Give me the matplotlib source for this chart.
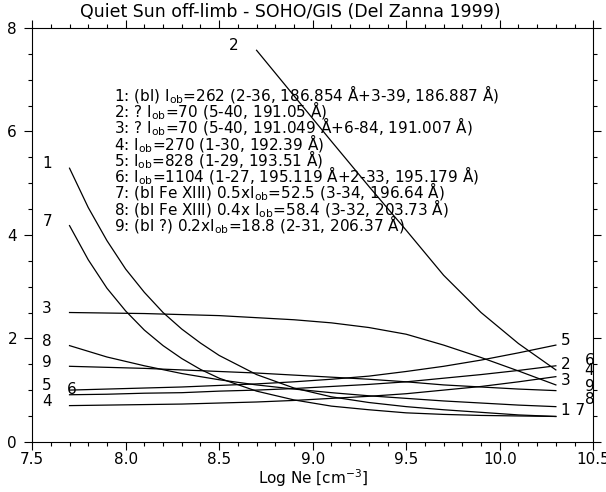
import numpy as np
import matplotlib.pyplot as plt
from matplotlib.ticker import MultipleLocator

# Log Ne grid (cm^-3)
log_ne = [7.7, 7.9, 8.1, 8.3, 8.5, 8.7, 8.9, 9.1, 9.3, 9.5, 9.7, 9.9, 10.1, 10.3]
log_ne_steep = [7.7, 7.8, 7.9, 8.0, 8.1, 8.2, 8.3, 8.4, 8.5, 8.7, 8.9, 9.1, 9.3, 9.5, 9.7, 9.9, 10.1, 10.3]
log_ne_2 = [8.7, 8.9, 9.1, 9.3, 9.5, 9.7, 9.9, 10.1, 10.3]

# ratio curves, one per line
curve_1 = [5.29, 4.53, 3.89, 3.34, 2.89, 2.50, 2.18, 1.91, 1.67, 1.30, 1.04, 0.87, 0.76, 0.68, 0.62, 0.57, 0.52, 0.49]
curve_7 = [4.18, 3.52, 2.97, 2.53, 2.16, 1.86, 1.61, 1.40, 1.23, 0.98, 0.81, 0.69, 0.62, 0.56, 0.53, 0.51, 0.50, 0.49]
curve_2 = [7.57, 6.69, 5.81, 4.94, 4.09, 3.22, 2.50, 1.90, 1.39]
curve_3 = [2.50, 2.49, 2.48, 2.46, 2.44, 2.40, 2.36, 2.30, 2.21, 2.08, 1.87, 1.63, 1.37, 1.10]
curve_4 = [0.70, 0.71, 0.72, 0.73, 0.75, 0.77, 0.80, 0.84, 0.88, 0.93, 1.00, 1.07, 1.16, 1.26]
curve_5 = [1.00, 1.02, 1.04, 1.06, 1.09, 1.12, 1.16, 1.21, 1.27, 1.36, 1.46, 1.58, 1.72, 1.87]
curve_6 = [0.91, 0.92, 0.94, 0.95, 0.98, 1.00, 1.03, 1.07, 1.11, 1.16, 1.23, 1.30, 1.38, 1.47]
curve_8 = [1.86, 1.64, 1.47, 1.32, 1.20, 1.10, 1.02, 0.95, 0.89, 0.84, 0.79, 0.75, 0.71, 0.68]
curve_9 = [1.46, 1.44, 1.42, 1.39, 1.36, 1.33, 1.29, 1.25, 1.21, 1.16, 1.10, 1.06, 1.02, 0.99]

legend_lines = [
    r"1: (bl) I$_{\rm ob}$=262 (2-36, 186.854 Å+3-39, 186.887 Å)",
    r"2: ? I$_{\rm ob}$=70 (5-40, 191.05 Å)",
    r"3: ? I$_{\rm ob}$=70 (5-40, 191.049 Å+6-84, 191.007 Å)",
    r"4: I$_{\rm ob}$=270 (1-30, 192.39 Å)",
    r"5: I$_{\rm ob}$=828 (1-29, 193.51 Å)",
    r"6: I$_{\rm ob}$=1104 (1-27, 195.119 Å+2-33, 195.179 Å)",
    r"7: (bl Fe XIII) 0.5xI$_{\rm ob}$=52.5 (3-34, 196.64 Å)",
    r"8: (bl Fe XIII) 0.4x I$_{\rm ob}$=58.4 (3-32, 203.73 Å)",
    r"9: (bl ?) 0.2xI$_{\rm ob}$=18.8 (2-31, 206.37 Å)",
]

fig = plt.figure(figsize=(6.06, 4.92), dpi=100)
ax = fig.add_axes([0.053, 0.102, 0.926, 0.841])

for ys in [curve_1, curve_7]:
    ax.plot(log_ne_steep, ys, color='black', lw=0.9)
for ys in [curve_3, curve_4, curve_5, curve_6, curve_8, curve_9]:
    ax.plot(log_ne, ys, color='black', lw=0.9)
ax.plot(log_ne_2, curve_2, color='black', lw=0.9)

# curve numbers at the ends
fs = 11
left_labels = [("1", 7.58, 5.38), ("7", 7.58, 4.26), ("3", 7.58, 2.58), ("8", 7.58, 1.94),
               ("9", 7.58, 1.54), ("5", 7.58, 1.09), ("4", 7.58, 0.78), ("6", 7.71, 1.02),
               ("2", 8.575, 7.67)]
right_labels = [("5", 10.35, 1.96), ("2", 10.35, 1.49), ("3", 10.35, 1.18), ("1 7", 10.39, 0.60),
                ("6", 10.48, 1.57), ("4", 10.48, 1.38), ("9", 10.48, 1.07), ("8", 10.48, 0.81)]
for txt, x, y in left_labels + right_labels:
    ax.text(x, y, txt, fontsize=fs, ha='center', va='center')

for i, line in enumerate(legend_lines):
    ax.text(7.94, 6.71 - i * 0.314, line, fontsize=fs, ha='left', va='center')

ax.set_xlim(7.5, 10.5)
ax.set_ylim(0, 8)
ax.xaxis.set_major_locator(MultipleLocator(0.5))
ax.xaxis.set_minor_locator(MultipleLocator(0.1))
ax.yaxis.set_major_locator(MultipleLocator(2))
ax.yaxis.set_minor_locator(MultipleLocator(0.5))
ax.xaxis.set_major_formatter(plt.FuncFormatter(lambda v, p: f"{v:.1f}"))
ax.yaxis.set_major_formatter(plt.FuncFormatter(lambda v, p: f"{v:.0f}"))
ax.tick_params(which='both', direction='out', top=True, right=True, labelsize=fs, width=0.8)
ax.tick_params(which='major', length=5.8)
ax.tick_params(which='minor', length=2.9)
ax.tick_params(axis='x', which='major', pad=1.5)
ax.tick_params(axis='y', which='major', pad=5)
for s in ax.spines.values():
    s.set_linewidth(0.8)

ax.set_xlabel(r"Log Ne [cm$^{-3}$]", fontsize=fs, labelpad=0)
fig.text(290 / 606, 1 - 12 / 492, "Quiet Sun off-limb - SOHO/GIS (Del Zanna 1999)",
         fontsize=12.5, ha='center', va='center')

fig.savefig("out.png", dpi=100)
